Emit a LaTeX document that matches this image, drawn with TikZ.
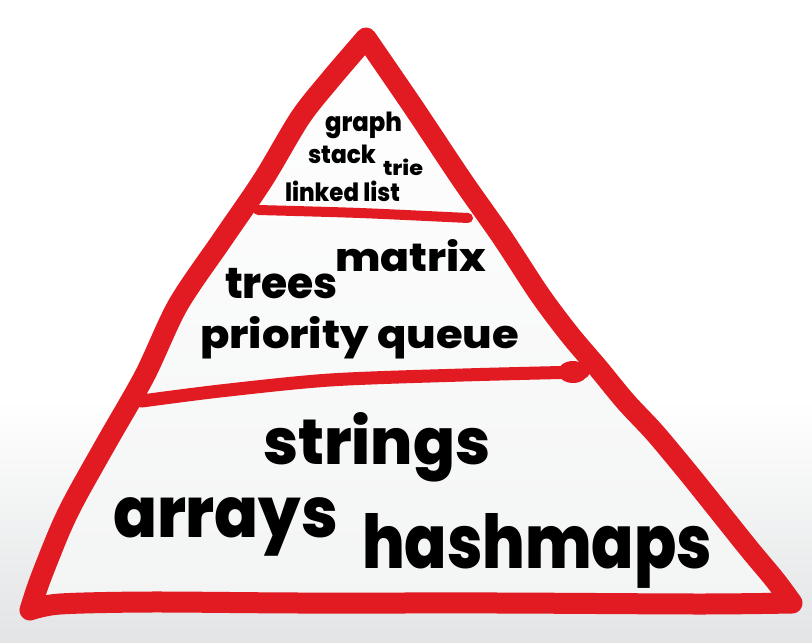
\documentclass[tikz,border=0pt]{standalone}
\usepackage{graphicx}
\usepackage{fontspec}
\newfontfamily\wordfont{Poppins ExtraBold}

\definecolor{pyrred}{RGB}{226,27,35}
\definecolor{floorgray}{RGB}{226,228,229}
\definecolor{innergray}{RGB}{243,244,244}

% hand-drawn outline of the pyramid (centre line of the marker stroke)
\newcommand{\pyroutline}{%
  plot[smooth,tension=0.5] coordinates {(30,610) (40,580) (60,530) (76,497) (108,440) (145,375)
     (178,305) (222,240) (263,180) (300,118) (330,80) (366,38)}
  -- plot[smooth,tension=0.5] coordinates {(366,38) (414,108) (462,180) (502,237) (540,295)
     (570,335) (598,368) (626,402) (655,433) (690,475) (722,515) (750,550) (775,580) (792,603)}
  -- plot[smooth,tension=0.5] coordinates {(792,603) (700,604) (500,603) (300,603) (150,602)
     (60,604) (30,610)}
  -- cycle}

% a word stretched to a given width and ascender height
\newcommand{\fitword}[3]{\resizebox{#1pt}{#2pt}{\vphantom{l}#3}}

\tikzset{
  marker/.style={draw=pyrred, line width=21pt, line join=round, line cap=round},
  divider/.style={draw=pyrred, line cap=round, line join=round},
  word/.style={anchor=base west, inner sep=0pt, outer sep=0pt, font=\wordfont, text=black}
}

\begin{document}
\begin{tikzpicture}[x=1pt, y=-1pt]
  \useasboundingbox (0,0) rectangle (812,643);

  % background: white fading to a light grey floor
  \fill[white] (0,0) rectangle (812,643);
  \shade[top color=white, bottom color=floorgray] (0,400) rectangle (812,643);

  % inside of the pyramid
  \shade[top color=white, middle color=white, bottom color=innergray] \pyroutline;

  % outline and the two level dividers
  \draw[marker] \pyroutline;
  \draw[divider, line width=10pt] plot[smooth] coordinates {(258,210) (360,213) (468,218)};
  \draw[divider, line width=13pt] plot[smooth] coordinates {(142,401) (220,391) (330,380) (463,375) (583,372)};
  \fill[pyrred] (573,372) ellipse [x radius=15, y radius=11];

  % top level
  \node[word] (graph)  at (325,131.5) {\fitword{77}{19.5}{graph}};
  \node[word] (stack)  at (308,163.3) {\fitword{68}{18.5}{stack}};
  \node[word] (trie)   at (383,175)   {\fitword{40}{16.5}{trie}};
  \node[word] (llist)  at (285,201.7) {\fitword{115}{20.5}{linked list}};

  % middle level
  \node[word] (matrix) at (335,271.7) {\fitword{151}{32}{matrix}};
  \node[word] (trees)  at (225,298.3) {\fitword{113}{32}{trees}};
  \node[word] (pqueue) at (200,348.3) {\fitword{319}{32}{priority queue}};

  % bottom level
  \node[word] (strings)  at (263,464.5) {\fitword{227}{52}{strings}};
  \node[word] (arrays)   at (113,537)   {\fitword{225}{52}{arrays}};
  \node[word] (hashmaps) at (362,568)   {\fitword{350}{55}{hashmaps}};
\end{tikzpicture}
\end{document}
